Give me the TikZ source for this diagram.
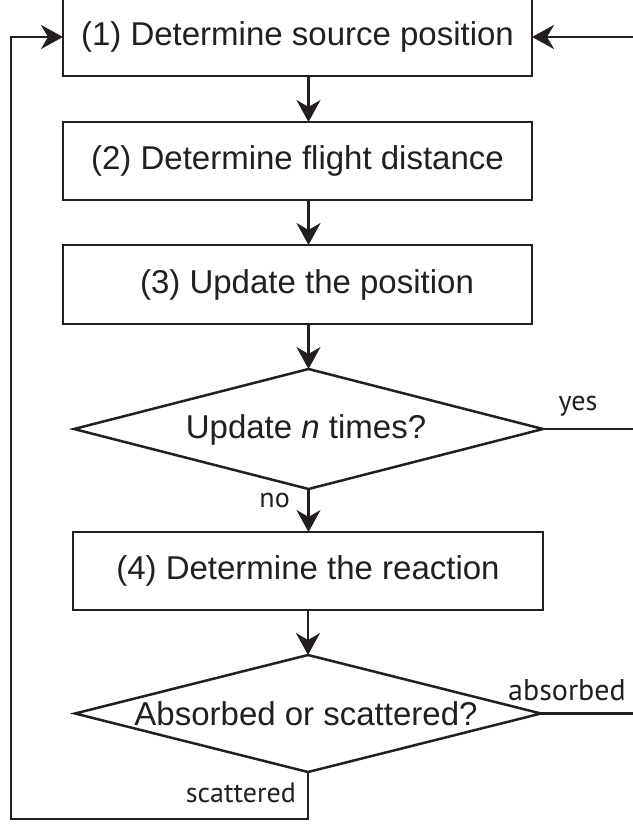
\documentclass[tikz,border=0pt]{standalone}
\usepackage{fontspec}
\setmainfont{Liberation Sans}
\newfontfamily\lblfont{PT Sans}
\usetikzlibrary{shapes.geometric,arrows.meta,calc}
\definecolor{ink}{HTML}{231F20}
\tikzset{
  box/.style={draw=ink, line width=2.5pt, rectangle, minimum width=469pt, minimum height=78pt, inner sep=0pt, outer sep=0pt, text=ink, font=\fontsize{33pt}{38pt}\selectfont},
  dia/.style={draw=ink, line width=2.5pt, diamond, inner sep=0pt, outer sep=0pt},
  txt/.style={text=ink, font=\fontsize{33pt}{38pt}\selectfont, inner sep=0pt},
  lbl/.style={text=ink, font=\lblfont\fontsize{28pt}{32pt}\selectfont, inner sep=0pt},
  conn/.style={draw=ink, line width=2.4pt},
  arr/.style={conn, -{Stealth[length=22pt, width=24pt, inset=7pt]}},
}
\begin{document}
\begin{tikzpicture}[x=1pt,y=-1pt]
\useasboundingbox (0,0) rectangle (632,824);
\fill[white] (0,0) rectangle (632,824);
% boxes
\node[box] (b1) at (297.5,37) {(1) Determine source position};
\node[box] (b2) at (297.5,161) {(2) Determine flight distance};
\node[box, minimum height=79pt] (b3) at (297.5,284.5) {};
\node[txt] (b3t) at (307,284.5) {(3) Update the position};
\node[dia, minimum width=469pt, minimum height=120pt] (d1) at (308.5,429) {};
\node[txt] (d1t) at (306,430) {Update \textit{n} times?};
\node[box, minimum width=470pt] (b4) at (308,571) {(4) Determine the reaction};
\node[dia, minimum width=466pt, minimum height=117pt] (d2) at (308,713.5) {};
\node[txt] (d2t) at (306,714) {Absorbed or scattered?};
% helper coordinates
\coordinate (r1) at (645,37);
\coordinate (lb) at (11,819);
% connectors
\draw[arr] (b1.south -| d1.north) -- (b2.north -| d1.north);
\draw[arr] (b2.south -| d1.north) -- (b3.north -| d1.north);
\draw[arr] (b3.south -| d1.north) -- (d1.north);
\draw[arr] (d1.south) -- (b4.north -| d1.south);
\draw[arr] (b4.south) -- (d2.north);
\draw[conn] (d1.east) -- (d1.east -| r1);
\draw[conn] (d2.east) -- (d2.east -| r1);
\draw[arr] (r1) -- (b1.east);
\draw[arr] (d2.south) |- (lb) |- (b1.west);
% labels
\node[lbl] (yes) at (578,406) {yes};
\node[lbl, anchor=east] (no) at (290,500) {no};
\node[lbl, font=\lblfont\fontsize{30pt}{34pt}\selectfont] (abs) at (567,690) {absorbed};
\node[lbl, anchor=east] (sca) at (296,793) {scattered};
\end{tikzpicture}
\end{document}
